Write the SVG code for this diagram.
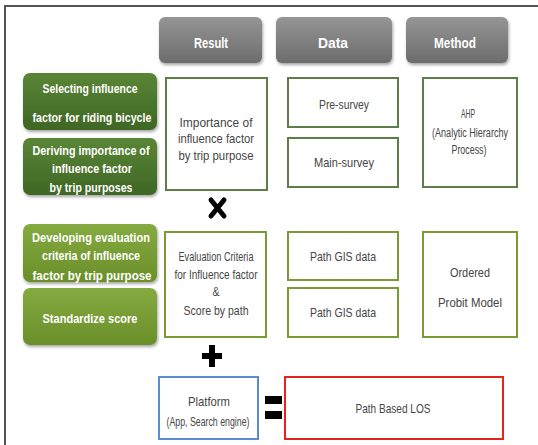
<svg xmlns="http://www.w3.org/2000/svg" width="538" height="445" viewBox="0 0 538 445">
<defs>
<linearGradient id="gGray" x1="0" y1="0" x2="0" y2="1"><stop offset="0" stop-color="#959595"/><stop offset="1" stop-color="#6c6c6c"/></linearGradient>
<linearGradient id="gDark" x1="0" y1="0" x2="0" y2="1"><stop offset="0" stop-color="#5a8636"/><stop offset="1" stop-color="#3e6624"/></linearGradient>
<linearGradient id="gLight" x1="0" y1="0" x2="0" y2="1"><stop offset="0" stop-color="#86aa40"/><stop offset="1" stop-color="#6a8f2a"/></linearGradient>
<filter id="sh" x="-10%" y="-10%" width="125%" height="130%"><feDropShadow dx="1" dy="2" stdDeviation="1.5" flood-color="#000" flood-opacity="0.35"/></filter>
</defs>
<style>
.hdr{fill:url(#gGray);filter:url(#sh)}
.gd{fill:url(#gDark);filter:url(#sh)}
.gl{fill:url(#gLight);filter:url(#sh)}
.ht{font-family:"Liberation Sans",Arial,sans-serif;font-weight:bold;font-size:15px;fill:#fff;text-anchor:middle}
.gt{font-family:"Liberation Sans",Arial,sans-serif;font-weight:bold;font-size:13.5px;fill:#fff;text-anchor:middle}
.b1{fill:#fff;stroke:#5f7d48;stroke-width:2}
.b2{fill:#fff;stroke:#7a9a34;stroke-width:2}
.bt{font-family:"Liberation Sans",Arial,sans-serif;font-size:13.5px;fill:#454545;text-anchor:middle}
.st{font-family:"Liberation Sans",Arial,sans-serif;font-size:12.5px;fill:#454545;text-anchor:middle}
</style>
<rect x="0" y="0" width="538" height="445" fill="#fff"/>
<g id="frame" stroke="#555" stroke-width="2" fill="none">
<path d="M5 445 V6 H538"/>
</g>
<g id="hdr-result"><rect class="hdr" x="159" y="17" width="103" height="46" rx="6"/><text class="ht" x="211" y="48" textLength="34" lengthAdjust="spacingAndGlyphs">Result</text></g>
<g id="hdr-data"><rect class="hdr" x="276" y="17" width="116" height="46" rx="6"/><text class="ht" x="333" y="48" textLength="30" lengthAdjust="spacingAndGlyphs">Data</text></g>
<g id="hdr-method"><rect class="hdr" x="406" y="17" width="102" height="46" rx="6"/><text class="ht" x="455" y="48" textLength="42" lengthAdjust="spacingAndGlyphs">Method</text></g>

<g id="step1"><rect class="gd" x="23" y="73" width="134" height="57" rx="7"/>
<text class="gt" x="90" y="93" textLength="95" lengthAdjust="spacingAndGlyphs">Selecting influence</text>
<text class="gt" x="92" y="122" textLength="119" lengthAdjust="spacingAndGlyphs">factor for riding bicycle</text></g>
<g id="step2"><rect class="gd" x="23" y="138" width="134" height="57" rx="7"/>
<text class="gt" x="91" y="155" textLength="117" lengthAdjust="spacingAndGlyphs">Deriving importance of</text>
<text class="gt" x="92" y="173" textLength="80" lengthAdjust="spacingAndGlyphs">influence factor</text>
<text class="gt" x="91" y="192" textLength="83" lengthAdjust="spacingAndGlyphs">by trip purposes</text></g>
<g id="step3"><rect class="gl" x="23" y="224" width="134" height="58" rx="7"/>
<text class="gt" x="91" y="242" textLength="118" lengthAdjust="spacingAndGlyphs">Developing evaluation</text>
<text class="gt" x="91" y="260" textLength="98" lengthAdjust="spacingAndGlyphs">criteria of influence</text>
<text class="gt" x="92" y="280" textLength="119" lengthAdjust="spacingAndGlyphs">factor by trip purpose</text></g>
<g id="step4"><rect class="gl" x="23" y="288" width="134" height="57" rx="7"/>
<text class="gt" x="90" y="323" textLength="95" lengthAdjust="spacingAndGlyphs">Standardize score</text></g>

<g id="result1"><rect class="b1" x="166" y="78" width="101" height="112"/>
<text class="bt" x="216" y="127" textLength="73" lengthAdjust="spacingAndGlyphs">Importance of</text>
<text class="bt" x="216" y="143" textLength="76" lengthAdjust="spacingAndGlyphs">influence factor</text>
<text class="bt" x="216" y="160" textLength="75" lengthAdjust="spacingAndGlyphs">by trip purpose</text></g>
<g id="presurvey"><rect class="b1" x="288" y="78" width="110" height="49"/>
<text class="bt" x="344" y="109" textLength="50" lengthAdjust="spacingAndGlyphs">Pre-survey</text></g>
<g id="mainsurvey"><rect class="b1" x="288" y="138" width="110" height="49"/>
<text class="bt" x="344" y="167" textLength="60" lengthAdjust="spacingAndGlyphs">Main-survey</text></g>
<g id="ahp"><rect class="b1" x="423" y="78" width="94" height="109"/>
<text class="st" x="468" y="118" textLength="14" lengthAdjust="spacingAndGlyphs">AHP</text>
<text class="st" x="470" y="137" textLength="76" lengthAdjust="spacingAndGlyphs">(Analytic Hierarchy</text>
<text class="st" x="469" y="154" textLength="35" lengthAdjust="spacingAndGlyphs">Process)</text></g>

<g id="result2"><rect class="b2" x="165" y="232" width="101" height="105"/>
<text class="bt" x="216" y="261" textLength="75" lengthAdjust="spacingAndGlyphs">Evaluation Criteria</text>
<text class="bt" x="216" y="279" textLength="83" lengthAdjust="spacingAndGlyphs">for Influence factor</text>
<text class="bt" x="216" y="296" textLength="7" lengthAdjust="spacingAndGlyphs">&amp;</text>
<text class="bt" x="216" y="315" textLength="65" lengthAdjust="spacingAndGlyphs">Score by path</text></g>
<g id="gis1"><rect class="b2" x="288" y="232" width="110" height="48"/>
<text class="bt" x="343" y="261" textLength="66" lengthAdjust="spacingAndGlyphs">Path GIS data</text></g>
<g id="gis2"><rect class="b2" x="288" y="288" width="110" height="49"/>
<text class="bt" x="343" y="317" textLength="66" lengthAdjust="spacingAndGlyphs">Path GIS data</text></g>
<g id="probit"><rect class="b2" x="423" y="232" width="94" height="105"/>
<text class="bt" x="470" y="277" textLength="40" lengthAdjust="spacingAndGlyphs">Ordered</text>
<text class="bt" x="470" y="307" textLength="64" lengthAdjust="spacingAndGlyphs">Probit Model</text></g>

<g id="platform"><rect x="159" y="377" width="99" height="62" fill="#fff" stroke="#5b8dd6" stroke-width="2"/>
<text class="bt" x="209" y="406" textLength="42" lengthAdjust="spacingAndGlyphs">Platform</text>
<text class="st" x="208" y="426" textLength="83" lengthAdjust="spacingAndGlyphs">(App, Search engine)</text></g>
<g id="los"><rect x="285" y="377" width="218" height="62" fill="#fff" stroke="#e52222" stroke-width="2"/>
<text class="bt" x="393" y="413" textLength="75" lengthAdjust="spacingAndGlyphs">Path Based LOS</text></g>

<g id="operators" fill="#000">
<path d="M211 200 L224 216 M224 200 L211 216" stroke="#000" stroke-width="5" stroke-linecap="round" fill="none"/>
<rect x="209" y="345" width="6" height="22"/>
<rect x="202" y="353" width="20" height="6"/>
<rect x="265" y="396" width="17" height="8"/>
<rect x="265" y="411" width="17" height="8"/>
</g>
</svg>
